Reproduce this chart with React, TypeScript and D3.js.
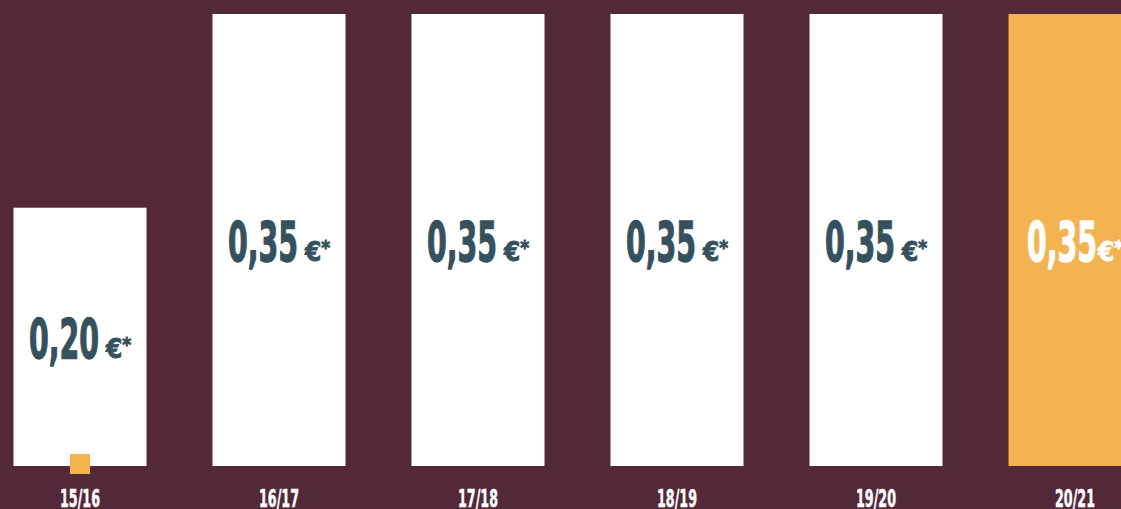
import React from 'react';
import * as d3 from 'd3';

// saisons et montants
const seasons = ['15/16', '16/17', '17/18', '18/19', '19/20', '20/21'];
const amounts = [0.2, 0.35, 0.35, 0.35, 0.35, 0.35];
const valueLabels = ['0,20', '0,35', '0,35', '0,35', '0,35', '0,35'];
const highlighted = ['20/21'];
const markers = ['15/16'];

const W = 1121;
const H = 509;
const BG = '#53293a';
const ORANGE = '#f3b351';
const TEAL = '#35515e';
const FONT = '"Liberation Sans Narrow", "DejaVu Sans Condensed", Roboto, sans-serif';

export default function App() {
  const x = d3.scaleBand<string>()
    .domain(seasons)
    .range([13.5, 13.5 + 6 * 199 - 66])
    .paddingInner(66 / 199)
    .paddingOuter(0);

  const y = d3.scaleLinear().domain([0, 0.35]).range([466, 14]);

  return (
    <svg
      width={W}
      height={H}
      style={{ position: 'fixed', left: 0, top: 0, display: 'block' }}
    >
      <rect x={0} y={0} width={W} height={H} fill={BG} />
      {seasons.map((s, i) => {
        const x0 = x(s)!;
        const bw = x.bandwidth();
        const cx = x0 + bw / 2;
        const top = y(amounts[i]);
        const bottom = y(0);
        const hi = highlighted.includes(s);
        const mid = (top + bottom) / 2;
        const numW = 70;
        const gap = hi ? 1 : 7;
        const curW = 25;
        const startX = cx - (numW + gap + curW) / 2;
        const txtColor = hi ? '#ffffff' : TEAL;
        return (
          <g key={s}>
            <rect x={x0} y={top} width={bw} height={bottom - top} fill={hi ? ORANGE : '#ffffff'} />
            <text
              x={startX}
              y={mid + 21}
              fontFamily={FONT}
              fontWeight="bold"
              fontSize={56}
              fill={txtColor}
              stroke={txtColor}
              strokeWidth={1.3}
              textLength={numW}
              lengthAdjust="spacingAndGlyphs"
            >
              {valueLabels[i]}
            </text>
            <text
              x={startX + numW + gap}
              y={mid + 21}
              fontFamily={FONT}
              fontWeight="bold"
              fontSize={26}
              fill={txtColor}
              stroke={txtColor}
              strokeWidth={0.8}
            >
              €
              <tspan fontSize={19} dy={-7}>*</tspan>
            </text>
            {markers.includes(s) && (
              <rect x={cx - 10} y={bottom - 12} width={20} height={20} fill={ORANGE} />
            )}
            <text
              x={cx}
              y={507}
              textAnchor="middle"
              fontFamily={FONT}
              fontWeight="bold"
              fontSize={24}
              fill="#ffffff"
              stroke="#ffffff"
              strokeWidth={0.5}
              textLength={40}
              lengthAdjust="spacingAndGlyphs"
            >
              {s}
            </text>
          </g>
        );
      })}
    </svg>
  );
}
